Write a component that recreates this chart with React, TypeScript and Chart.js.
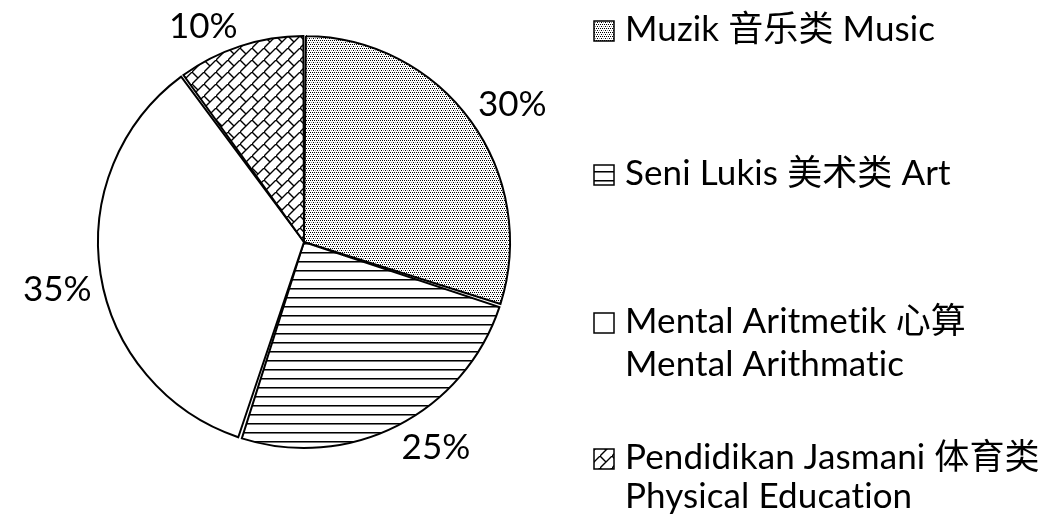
import React, { useEffect, useRef } from "react";
import { Chart, registerables } from "chart.js";
Chart.register(...registerables);

const categories = ["Muzik 音乐类 Music", "Seni Lukis 美术类 Art", "Mental Aritmetik 心算 Mental Arithmatic", "Pendidikan Jasmani 体育类 Physical Education"];
const legendLines = [
  ["Muzik 音乐类 Music"],
  ["Seni Lukis 美术类 Art"],
  ["Mental Aritmetik 心算", "Mental Arithmatic"],
  ["Pendidikan Jasmani 体育类", "Physical Education"],
];
const values = [30, 25, 35, 10];
const valueLabels = ["30%", "25%", "35%", "10%"];

const FONT_FAMILY = '"Lato", "Noto Sans CJK SC", sans-serif';
const FONT_SIZE = 35;

function makeTile(w: number, h: number, draw: (g: CanvasRenderingContext2D) => void) {
  const c = document.createElement("canvas");
  c.width = w;
  c.height = h;
  const g = c.getContext("2d")!;
  g.fillStyle = "#fff";
  g.fillRect(0, 0, w, h);
  draw(g);
  return c;
}

function makePatterns(ctx: CanvasRenderingContext2D) {
  const dots = makeTile(4, 4, (g) => {
    g.fillStyle = "#000";
    g.fillRect(0, 0, 1, 1);
    g.fillRect(2, 0, 1, 1);
    g.fillRect(1, 2, 1, 1);
    g.fillStyle = "#888";
    g.fillRect(3, 2, 1, 1);
  });
  const hlines = makeTile(8, 9, (g) => {
    g.fillStyle = "#000";
    g.fillRect(0, 0, 8, 1);
    g.fillStyle = "#777";
    g.fillRect(0, 1, 8, 1);
  });
  const blank = makeTile(4, 4, () => {});
  const brick = makeTile(12, 12, (g) => {
    g.strokeStyle = "#000";
    g.lineWidth = 1.4;
    g.beginPath();
    g.moveTo(-1, 13);
    g.lineTo(13, -1);
    g.moveTo(-1, -1);
    g.lineTo(6, 6);
    g.stroke();
  });
  return [dots, hlines, blank, brick].map((t) => ctx.createPattern(t, "repeat")!);
}

const labelPlugin = {
  id: "pctLabels",
  afterDatasetsDraw(chart: any) {
    const ctx = chart.ctx as CanvasRenderingContext2D;
    const meta = chart.getDatasetMeta(0);
    ctx.save();
    ctx.font = `${FONT_SIZE}px ${FONT_FAMILY}`;
    ctx.fillStyle = "#000";
    ctx.textAlign = "left";
    ctx.textBaseline = "alphabetic";
    meta.data.forEach((arc: any, i: number) => {
      const { x, y, startAngle, endAngle, outerRadius } = arc.getProps(["x", "y", "startAngle", "endAngle", "outerRadius"], true);
      const mid = (startAngle + endAngle) / 2;
      const txt = valueLabels[i];
      const m = ctx.measureText(txt);
      const w = m.width;
      const h = m.actualBoundingBoxAscent;
      const px = x + Math.cos(mid) * (outerRadius + 10);
      const py = y + Math.sin(mid) * (outerRadius + 10);
      const left = Math.cos(mid) >= 0 ? px : px - w;
      const baseline = Math.sin(mid) >= 0 ? py + h : py;
      ctx.fillText(txt, left, baseline);
    });
    ctx.restore();
  },
};

const legendY = [[30], [174], [322, 365], [458, 497]];

function makeLegendPlugin(patterns: CanvasPattern[]) {
  return {
    id: "sideLegend",
    afterDraw(chart: any) {
      const ctx = chart.ctx as CanvasRenderingContext2D;
      ctx.save();
      ctx.font = `${FONT_SIZE}px ${FONT_FAMILY}`;
      (ctx as any).letterSpacing = "0.1px";
      ctx.fillStyle = "#000";
      ctx.textAlign = "left";
      ctx.textBaseline = "middle";
      const markerX = 594;
      const textX = 625;
      const ms = 20;
      legendLines.forEach((lines, i) => {
        const ys = legendY[i];
        ctx.fillStyle = patterns[i];
        ctx.fillRect(markerX, ys[0] - ms / 2 + 1, ms, ms);
        ctx.strokeStyle = "#000";
        ctx.lineWidth = 1.5;
        ctx.strokeRect(markerX, ys[0] - ms / 2 + 1, ms, ms);
        ctx.fillStyle = "#000";
        lines.forEach((ln, j) => ctx.fillText(ln, textX, ys[j]));
      });
      ctx.restore();
    },
  };
}

export default function App() {
  const ref = useRef<HTMLCanvasElement>(null);
  useEffect(() => {
    const canvas = ref.current!;
    const ctx = canvas.getContext("2d")!;
    const patterns = makePatterns(ctx);
    const chart = new Chart(canvas, {
      type: "pie",
      data: {
        labels: categories,
        datasets: [
          {
            data: values,
            backgroundColor: patterns as any,
            borderColor: "#000",
            borderWidth: 2,
            spacing: 2,
            borderJoinStyle: "miter",
            radius: 205,
          } as any,
        ],
      },
      options: {
        animation: false,
        responsive: false,
        layout: { padding: { left: 94, right: 531, top: 32, bottom: 74 } },
        plugins: { legend: { display: false }, tooltip: { enabled: false } },
      },
      plugins: [labelPlugin, makeLegendPlugin(patterns)],
    });
    return () => chart.destroy();
  }, []);
  return (
    <div style={{ position: "absolute", left: 0, top: 0, width: 1045, height: 526, background: "#fff" }}>
      <canvas ref={ref} width={1045} height={526} style={{ width: 1045, height: 526, display: "block" }} />
    </div>
  );
}
